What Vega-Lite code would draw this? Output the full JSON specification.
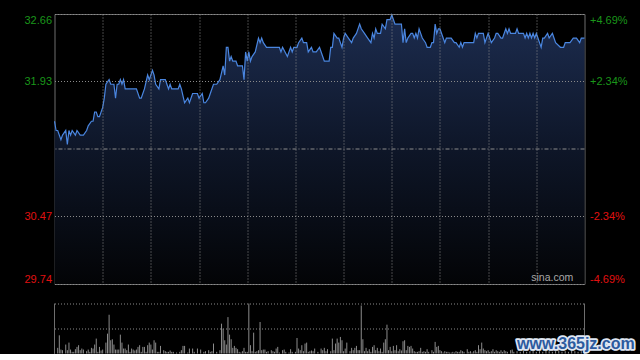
{
  "$schema": "https://vega.github.io/schema/vega-lite/v6.json",
  "background": "#000000",
  "padding": {"left": 22.5, "top": 12, "right": 4, "bottom": 0},
  "config": {
    "view": {"stroke": "#6e6e6e", "strokeWidth": 1},
    "font": "Liberation Sans",
    "axis": {"labelFont": "Liberation Sans", "labelFontSize": 11}
  },
  "datasets": {
    "price": [
      {"t":0,"p":31.50},{"t":1,"p":31.40},{"t":2,"p":31.40},{"t":4,"p":31.30},{"t":5,"p":31.35},{"t":7,"p":31.40},{"t":8,"p":31.25},{"t":9,"p":31.40},{"t":10,"p":31.35},{"t":11,"p":31.40},{"t":13,"p":31.35},{"t":14,"p":31.40},{"t":16,"p":31.35},{"t":18,"p":31.35},{"t":20,"p":31.40},{"t":21,"p":31.45},{"t":23,"p":31.50},{"t":24,"p":31.50},{"t":25,"p":31.60},{"t":26,"p":31.60},{"t":27,"p":31.55},{"t":28,"p":31.55},{"t":30,"p":31.65},{"t":31,"p":31.75},{"t":32,"p":31.90},{"t":34,"p":31.95},{"t":35,"p":31.90},{"t":37,"p":31.90},{"t":38,"p":31.75},{"t":39,"p":31.90},{"t":40,"p":31.90},{"t":41,"p":31.95},{"t":42,"p":31.90},{"t":43,"p":31.95},{"t":44,"p":31.85},{"t":51,"p":31.85},{"t":53,"p":31.75},{"t":54,"p":31.75},{"t":55,"p":31.80},{"t":56,"p":31.85},{"t":58,"p":32.00},{"t":59,"p":31.95},{"t":61,"p":32.05},{"t":62,"p":32.00},{"t":63,"p":31.90},{"t":65,"p":31.85},{"t":66,"p":31.95},{"t":69,"p":31.95},{"t":70,"p":31.90},{"t":71,"p":31.85},{"t":72,"p":31.90},{"t":73,"p":31.85},{"t":77,"p":31.85},{"t":78,"p":31.90},{"t":79,"p":31.85},{"t":81,"p":31.70},{"t":83,"p":31.75},{"t":84,"p":31.70},{"t":86,"p":31.80},{"t":89,"p":31.80},{"t":90,"p":31.75},{"t":92,"p":31.80},{"t":93,"p":31.70},{"t":94,"p":31.70},{"t":96,"p":31.75},{"t":97,"p":31.80},{"t":99,"p":31.90},{"t":101,"p":31.90},{"t":103,"p":31.95},{"t":105,"p":32.10},{"t":106,"p":32.00},{"t":107,"p":32.30},{"t":108,"p":32.30},{"t":109,"p":32.15},{"t":110,"p":32.20},{"t":111,"p":32.15},{"t":113,"p":32.15},{"t":114,"p":32.10},{"t":117,"p":32.10},{"t":118,"p":31.95},{"t":119,"p":32.25},{"t":120,"p":32.15},{"t":121,"p":32.25},{"t":122,"p":32.15},{"t":123,"p":32.20},{"t":125,"p":32.25},{"t":127,"p":32.40},{"t":128,"p":32.35},{"t":129,"p":32.40},{"t":130,"p":32.35},{"t":132,"p":32.30},{"t":140,"p":32.30},{"t":141,"p":32.25},{"t":142,"p":32.30},{"t":145,"p":32.20},{"t":147,"p":32.30},{"t":148,"p":32.25},{"t":149,"p":32.30},{"t":151,"p":32.30},{"t":152,"p":32.35},{"t":154,"p":32.40},{"t":155,"p":32.35},{"t":157,"p":32.35},{"t":158,"p":32.25},{"t":160,"p":32.30},{"t":161,"p":32.25},{"t":163,"p":32.25},{"t":165,"p":32.30},{"t":167,"p":32.20},{"t":168,"p":32.15},{"t":171,"p":32.15},{"t":172,"p":32.30},{"t":173,"p":32.30},{"t":174,"p":32.45},{"t":176,"p":32.40},{"t":177,"p":32.40},{"t":179,"p":32.30},{"t":180,"p":32.40},{"t":181,"p":32.45},{"t":183,"p":32.40},{"t":185,"p":32.35},{"t":186,"p":32.40},{"t":188,"p":32.45},{"t":190,"p":32.55},{"t":191,"p":32.50},{"t":193,"p":32.45},{"t":195,"p":32.40},{"t":197,"p":32.35},{"t":198,"p":32.45},{"t":199,"p":32.40},{"t":200,"p":32.50},{"t":201,"p":32.45},{"t":203,"p":32.45},{"t":204,"p":32.55},{"t":206,"p":32.50},{"t":207,"p":32.60},{"t":209,"p":32.60},{"t":210,"p":32.65},{"t":212,"p":32.55},{"t":216,"p":32.55},{"t":217,"p":32.35},{"t":218,"p":32.50},{"t":219,"p":32.35},{"t":220,"p":32.40},{"t":222,"p":32.45},{"t":223,"p":32.45},{"t":224,"p":32.40},{"t":225,"p":32.45},{"t":226,"p":32.40},{"t":227,"p":32.50},{"t":228,"p":32.45},{"t":229,"p":32.40},{"t":231,"p":32.35},{"t":232,"p":32.30},{"t":234,"p":32.30},{"t":235,"p":32.35},{"t":236,"p":32.35},{"t":237,"p":32.55},{"t":238,"p":32.45},{"t":239,"p":32.50},{"t":240,"p":32.50},{"t":242,"p":32.40},{"t":243,"p":32.35},{"t":244,"p":32.40},{"t":247,"p":32.40},{"t":249,"p":32.35},{"t":250,"p":32.35},{"t":252,"p":32.30},{"t":253,"p":32.35},{"t":254,"p":32.30},{"t":255,"p":32.35},{"t":261,"p":32.35},{"t":262,"p":32.45},{"t":263,"p":32.40},{"t":264,"p":32.45},{"t":267,"p":32.45},{"t":268,"p":32.35},{"t":269,"p":32.40},{"t":270,"p":32.45},{"t":272,"p":32.35},{"t":274,"p":32.40},{"t":275,"p":32.45},{"t":276,"p":32.45},{"t":278,"p":32.40},{"t":279,"p":32.40},{"t":281,"p":32.50},{"t":282,"p":32.45},{"t":283,"p":32.50},{"t":284,"p":32.45},{"t":287,"p":32.45},{"t":288,"p":32.50},{"t":289,"p":32.45},{"t":292,"p":32.45},{"t":293,"p":32.40},{"t":294,"p":32.45},{"t":295,"p":32.40},{"t":296,"p":32.45},{"t":297,"p":32.40},{"t":298,"p":32.45},{"t":299,"p":32.40},{"t":300,"p":32.45},{"t":301,"p":32.40},{"t":302,"p":32.35},{"t":303,"p":32.30},{"t":304,"p":32.40},{"t":305,"p":32.40},{"t":307,"p":32.45},{"t":308,"p":32.40},{"t":310,"p":32.45},{"t":311,"p":32.40},{"t":312,"p":32.35},{"t":315,"p":32.30},{"t":317,"p":32.30},{"t":318,"p":32.35},{"t":321,"p":32.35},{"t":323,"p":32.40},{"t":325,"p":32.40},{"t":327,"p":32.35},{"t":328,"p":32.40},{"t":330,"p":32.40}
    ],
    "vol": [
      {"t":0,"v":26.5},{"t":2,"v":11.3},{"t":3,"v":36.4},{"t":4,"v":7.9},{"t":5,"v":6.6},{"t":7,"v":17.9},{"t":8,"v":6.6},{"t":9,"v":21.8},{"t":10,"v":7.9},{"t":11,"v":3.3},{"t":12,"v":3.3},{"t":13,"v":8.6},{"t":14,"v":13.2},{"t":15,"v":16.6},{"t":16,"v":6.6},{"t":17,"v":9.9},{"t":18,"v":7.9},{"t":20,"v":4.6},{"t":21,"v":7.9},{"t":22,"v":3.3},{"t":23,"v":11.3},{"t":24,"v":9.9},{"t":25,"v":17.9},{"t":26,"v":29.8},{"t":27,"v":3.3},{"t":28,"v":13.2},{"t":29,"v":6},{"t":30,"v":7.9},{"t":32,"v":21.8},{"t":33,"v":39.7},{"t":34,"v":77.5},{"t":35,"v":26.5},{"t":36,"v":28.5},{"t":37,"v":17.9},{"t":38,"v":7.9},{"t":39,"v":7.9},{"t":40,"v":7.9},{"t":41,"v":37.7},{"t":42,"v":21.8},{"t":43,"v":9.9},{"t":44,"v":9.9},{"t":45,"v":6.6},{"t":46,"v":17.9},{"t":47,"v":3.3},{"t":48,"v":9.9},{"t":49,"v":7.9},{"t":50,"v":6},{"t":51,"v":7.9},{"t":52,"v":13.2},{"t":53,"v":16.6},{"t":54,"v":3.3},{"t":55,"v":13.2},{"t":56,"v":13.2},{"t":57,"v":3.3},{"t":58,"v":16.6},{"t":59,"v":21.8},{"t":60,"v":17.9},{"t":61,"v":7.9},{"t":62,"v":26.5},{"t":63,"v":21.8},{"t":64,"v":3.3},{"t":65,"v":3.3},{"t":66,"v":15.2},{"t":68,"v":6.6},{"t":69,"v":4.6},{"t":70,"v":3.3},{"t":71,"v":3.3},{"t":72,"v":6},{"t":73,"v":3.3},{"t":74,"v":3.3},{"t":76,"v":2},{"t":78,"v":3.3},{"t":79,"v":6.6},{"t":80,"v":15.2},{"t":81,"v":15.2},{"t":83,"v":2},{"t":84,"v":9.9},{"t":86,"v":9.9},{"t":87,"v":3.3},{"t":89,"v":9.9},{"t":91,"v":7.9},{"t":93,"v":3.3},{"t":94,"v":4.6},{"t":96,"v":6.6},{"t":97,"v":3.3},{"t":98,"v":4.6},{"t":99,"v":19.9},{"t":101,"v":3.3},{"t":103,"v":6.6},{"t":104,"v":59.6},{"t":105,"v":49.7},{"t":106,"v":26.5},{"t":107,"v":17.9},{"t":108,"v":72.8},{"t":109,"v":37.7},{"t":110,"v":28.5},{"t":111,"v":11.3},{"t":112,"v":15.2},{"t":113,"v":11.3},{"t":114,"v":8.6},{"t":115,"v":3.3},{"t":116,"v":2},{"t":117,"v":4.6},{"t":118,"v":11.3},{"t":119,"v":3.3},{"t":120,"v":3.3},{"t":121,"v":100},{"t":122,"v":16.6},{"t":123,"v":4.6},{"t":124,"v":41.7},{"t":125,"v":3.3},{"t":126,"v":4.6},{"t":127,"v":6.6},{"t":128,"v":63},{"t":129,"v":6.6},{"t":130,"v":7.9},{"t":131,"v":7.9},{"t":132,"v":3.3},{"t":133,"v":4.6},{"t":135,"v":6.6},{"t":136,"v":4.6},{"t":137,"v":3.3},{"t":138,"v":9.9},{"t":139,"v":13.2},{"t":140,"v":2},{"t":142,"v":6.6},{"t":143,"v":7.9},{"t":144,"v":3.3},{"t":146,"v":2},{"t":147,"v":8.6},{"t":148,"v":3.3},{"t":150,"v":3.3},{"t":151,"v":31},{"t":152,"v":9.9},{"t":153,"v":6.6},{"t":154,"v":16.6},{"t":155,"v":4.6},{"t":156,"v":19.9},{"t":157,"v":21.8},{"t":158,"v":3.3},{"t":159,"v":4.6},{"t":160,"v":6},{"t":161,"v":4.6},{"t":162,"v":9.9},{"t":164,"v":3.3},{"t":166,"v":9.9},{"t":167,"v":6.6},{"t":168,"v":11.3},{"t":169,"v":4.6},{"t":170,"v":8.6},{"t":172,"v":4.6},{"t":173,"v":29.8},{"t":174,"v":6.6},{"t":175,"v":19.9},{"t":176,"v":29.8},{"t":177,"v":21.8},{"t":178,"v":33.1},{"t":179,"v":26.5},{"t":180,"v":4.6},{"t":181,"v":9.9},{"t":182,"v":21.8},{"t":184,"v":4.6},{"t":185,"v":11.3},{"t":186,"v":6.6},{"t":187,"v":11.3},{"t":188,"v":15.2},{"t":189,"v":6.6},{"t":190,"v":6.6},{"t":191,"v":96},{"t":192,"v":28.5},{"t":193,"v":4.6},{"t":194,"v":11.3},{"t":195,"v":4.6},{"t":196,"v":8.6},{"t":197,"v":3.3},{"t":198,"v":13.2},{"t":199,"v":16.6},{"t":200,"v":6.6},{"t":201,"v":11.3},{"t":202,"v":4.6},{"t":203,"v":9.9},{"t":204,"v":3.3},{"t":205,"v":21.8},{"t":206,"v":28.5},{"t":207,"v":57.6},{"t":208,"v":6.6},{"t":209,"v":13.2},{"t":210,"v":4.6},{"t":211,"v":15.2},{"t":212,"v":6.6},{"t":213,"v":16.6},{"t":214,"v":4.6},{"t":215,"v":8.6},{"t":216,"v":6},{"t":217,"v":24.5},{"t":218,"v":26.5},{"t":219,"v":6.6},{"t":220,"v":15.2},{"t":221,"v":13.2},{"t":222,"v":15.2},{"t":223,"v":9.9},{"t":224,"v":4.6},{"t":225,"v":3.3},{"t":226,"v":3.3},{"t":227,"v":4.6},{"t":228,"v":11.3},{"t":229,"v":3.3},{"t":230,"v":4.6},{"t":231,"v":3.3},{"t":232,"v":8.6},{"t":233,"v":3.3},{"t":235,"v":6.6},{"t":236,"v":3.3},{"t":237,"v":23.2},{"t":238,"v":13.2},{"t":239,"v":15.2},{"t":240,"v":6.6},{"t":241,"v":4.6},{"t":242,"v":2},{"t":243,"v":4.6},{"t":244,"v":3.3},{"t":245,"v":3.3},{"t":246,"v":2},{"t":247,"v":2},{"t":248,"v":3.3},{"t":249,"v":2},{"t":250,"v":4.6},{"t":251,"v":3.3},{"t":252,"v":3.3},{"t":253,"v":6.6},{"t":254,"v":4.6},{"t":255,"v":3.3},{"t":257,"v":8.6},{"t":258,"v":3.3},{"t":259,"v":4.6},{"t":260,"v":2},{"t":261,"v":4.6},{"t":262,"v":6.6},{"t":263,"v":3.3},{"t":264,"v":16.6},{"t":265,"v":8.6},{"t":266,"v":21.8},{"t":267,"v":9.9},{"t":268,"v":6.6},{"t":269,"v":4.6},{"t":270,"v":6.6},{"t":271,"v":3.3},{"t":272,"v":4.6},{"t":273,"v":8.6},{"t":274,"v":3.3},{"t":275,"v":6.6},{"t":276,"v":4.6},{"t":277,"v":3.3},{"t":278,"v":6.6},{"t":279,"v":3.3},{"t":280,"v":6.6},{"t":281,"v":4.6},{"t":282,"v":3.3},{"t":284,"v":6.6},{"t":285,"v":7.9},{"t":286,"v":3.3},{"t":288,"v":4.6},{"t":290,"v":3.3},{"t":292,"v":6.6},{"t":294,"v":3.3},{"t":296,"v":4.6},{"t":298,"v":6.6},{"t":300,"v":3.3},{"t":302,"v":4.6},{"t":304,"v":3.3},{"t":306,"v":6.6},{"t":308,"v":4.6},{"t":310,"v":3.3},{"t":312,"v":4.6},{"t":314,"v":6.6},{"t":316,"v":3.3},{"t":318,"v":4.6},{"t":320,"v":3.3},{"t":322,"v":6.6},{"t":324,"v":4.6},{"t":326,"v":3.3},{"t":328,"v":4.6},{"t":330,"v":6.6}
    ]
  },
  "spacing": 17.5,
  "vconcat": [
    {
      "width": 530,
      "height": 270,
      "data": {"name": "price"},
      "layer": [
        {
          "mark": {
            "type": "area",
            "color": {
              "gradient": "linear", "x1": 0, "y1": 0, "x2": 0, "y2": 1,
              "stops": [
                {"offset": 0, "color": "#1c2c4f"},
                {"offset": 0.5, "color": "#0e1628"},
                {"offset": 1, "color": "#030406"}
              ]
            }
          },
          "encoding": {
            "x": {
              "field": "t", "type": "quantitative",
              "scale": {"domain": [0, 330], "nice": false},
              "axis": {
                "title": null, "labels": false, "ticks": false, "domain": false,
                "grid": true, "gridDash": [1, 2], "gridColor": "#8a8a8a", "gridOpacity": 1,
                "values": [30, 60, 90, 120, 150, 180, 210, 240, 270, 300],
                "zindex": 1
              }
            },
            "y": {
              "field": "p", "type": "quantitative",
              "scale": {"domain": [29.74, 32.66], "nice": false, "zero": false},
              "axis": {
                "orient": "left", "title": null, "ticks": false, "domain": false,
                "values": [29.74, 30.47, 31.93, 32.66], "format": ".2f",
                "labelFlush": true, "labelPadding": 3,
                "labelColor": {"condition": {"test": "datum.value > 31.2", "value": "#1a961a"}, "value": "#e01010"},
                "grid": true, "gridDash": [1, 2], "gridColor": "#8a8a8a", "gridOpacity": 1,
                "zindex": 1
              }
            },
            "y2": {"datum": 29.74}
          }
        },
        {
          "data": {"values": [{}]},
          "mark": {"type": "rule", "color": "#8c8c8c", "strokeDash": [4, 2, 1, 2], "strokeWidth": 1},
          "encoding": {"y": {"datum": 31.2, "axis": null}}
        },
        {
          "mark": {"type": "line", "color": "#4a86e0", "strokeWidth": 1.2},
          "encoding": {
            "x": {"field": "t", "type": "quantitative"},
            "y": {
              "field": "p", "type": "quantitative",
              "axis": {
                "orient": "right", "title": null, "ticks": false, "domain": false, "grid": false,
                "values": [29.74, 30.47, 31.93, 32.66],
                "labelExpr": "datum.value > 32 ? '+4.69%' : datum.value > 31.5 ? '+2.34%' : datum.value > 30 ? '-2.34%' : '-4.69%'",
                "labelFlush": true, "labelPadding": 5,
                "labelColor": {"condition": {"test": "datum.value > 31.2", "value": "#1a961a"}, "value": "#e01010"}
              }
            }
          }
        },
        {
          "data": {"values": [{}]},
          "mark": {"type": "text", "align": "right", "baseline": "middle", "fontSize": 10.5, "color": "#a8a8a8", "font": "Liberation Sans"},
          "encoding": {
            "x": {"datum": 323},
            "y": {"datum": 29.8, "axis": null},
            "text": {"value": "sina.com"}
          }
        }
      ],
      "resolve": {"axis": {"y": "independent"}}
    },
    {
      "width": 530,
      "height": 50,
      "view": {"stroke": null},
      "layer": [
        {
          "data": {"name": "vol"},
          "mark": {"type": "rule", "color": "#8c8c8c", "strokeWidth": 1},
          "encoding": {
            "x": {"field": "t", "type": "quantitative", "scale": {"domain": [0, 330], "nice": false}, "axis": null},
            "y": {
              "field": "v", "type": "quantitative",
              "scale": {"domain": [0, 100], "nice": false},
              "axis": {
                "title": null, "labels": false, "ticks": false, "domain": false,
                "grid": true, "values": [50, 100], "gridDash": [1, 2], "gridColor": "#8a8a8a", "gridOpacity": 1
              }
            },
            "y2": {"datum": 0}
          }
        },
        {
          "data": {"values": [{}]},
          "mark": {"type": "rule", "color": "#6e6e6e", "strokeWidth": 1},
          "encoding": {"x": {"datum": 0}, "y": {"datum": 0}, "y2": {"datum": 100}}
        },
        {
          "data": {"values": [{}]},
          "mark": {"type": "rule", "color": "#6e6e6e", "strokeWidth": 1},
          "encoding": {"x": {"datum": 330}, "y": {"datum": 0}, "y2": {"datum": 100}}
        },
        {
          "data": {"values": [{}]},
          "mark": {"type": "text", "align": "left", "baseline": "alphabetic", "fontSize": 16, "fontWeight": "bold", "font": "Liberation Sans", "fill": "#dfe6f2", "stroke": "#dfe6f2", "strokeWidth": 3.5, "strokeJoin": "round"},
          "encoding": {"x": {"datum": 288}, "y": {"datum": 10}, "text": {"value": "www.365jz.com"}}
        },
        {
          "data": {"values": [{}]},
          "mark": {"type": "text", "align": "left", "baseline": "alphabetic", "fontSize": 16, "fontWeight": "bold", "font": "Liberation Sans", "fill": "#2c5a9e"},
          "encoding": {"x": {"datum": 288}, "y": {"datum": 10}, "text": {"value": "www.365jz.com"}}
        }
      ]
    }
  ]
}
